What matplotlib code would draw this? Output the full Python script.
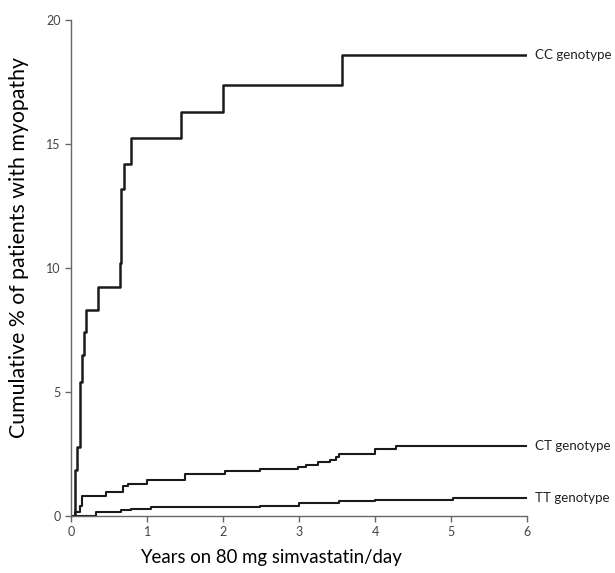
import matplotlib
matplotlib.use('Agg')
import matplotlib.pyplot as plt

plt.rcParams['font.family'] = ['Lato', 'DejaVu Sans']

# step curves (years, cumulative %), drawn with where='post'
cc_x = [0, 0.046, 0.076, 0.12, 0.14, 0.165, 0.19, 0.35, 0.64, 0.66, 0.69, 0.79, 1.44, 2.0, 3.56, 6.0]
cc_y = [0, 1.85, 2.8, 5.4, 6.5, 7.4, 8.3, 9.25, 10.2, 13.2, 14.2, 15.25, 16.3, 17.4, 18.6, 18.6]

ct_x = [0, 0.05, 0.11, 0.14, 0.46, 0.68, 0.75, 1.0, 1.49, 2.02, 2.48, 2.99, 3.09, 3.25, 3.4, 3.49, 3.53, 4.0, 4.27, 6.0]
ct_y = [0, 0.15, 0.4, 0.82, 0.95, 1.2, 1.3, 1.45, 1.7, 1.8, 1.89, 1.98, 2.06, 2.16, 2.26, 2.39, 2.5, 2.7, 2.83, 2.83]

tt_x = [0, 0.33, 0.66, 0.79, 1.05, 2.48, 3.0, 3.53, 4.0, 5.03, 6.0]
tt_y = [0, 0.17, 0.24, 0.3, 0.37, 0.42, 0.54, 0.6, 0.66, 0.74, 0.74]

labels = ['CC genotype', 'CT genotype', 'TT genotype']

fig = plt.figure(figsize=(6.15, 5.73), dpi=100)
ax = fig.add_axes([0.116, 0.0995, 0.741, 0.8655])

ax.step(cc_x, cc_y, where='post', color='#1a1a1a', lw=1.8)
ax.step(ct_x, ct_y, where='post', color='#1a1a1a', lw=1.5)
ax.step(tt_x, tt_y, where='post', color='#1a1a1a', lw=1.5)

for lab, yy in zip(labels, [cc_y[-1], ct_y[-1], tt_y[-1]]):
    ax.text(6.1, yy, lab, fontsize=9.6, va='center', ha='left', color='#222222', clip_on=False)

ax.set_xlim(0, 6)
ax.set_ylim(0, 20)
ax.set_xticks(range(0, 7))
ax.set_yticks([0, 5, 10, 15, 20])
for s in ['top', 'right']:
    ax.spines[s].set_visible(False)
for s in ['left', 'bottom']:
    ax.spines[s].set_color('#666666')
    ax.spines[s].set_linewidth(1.0)
ax.tick_params(colors='#666666', labelcolor='#444444', labelsize=9, length=4, width=1)

ax.set_xlabel('Years on 80 mg simvastatin/day', fontsize=13.4, va='center')
ax.xaxis.set_label_coords(0.4375, -0.084)
ax.set_ylabel('Cumulative % of patients with myopathy', fontsize=15.3, va='center')
ax.yaxis.set_label_coords(-0.115, 0.542)

fig.savefig('out.png', dpi=100)
